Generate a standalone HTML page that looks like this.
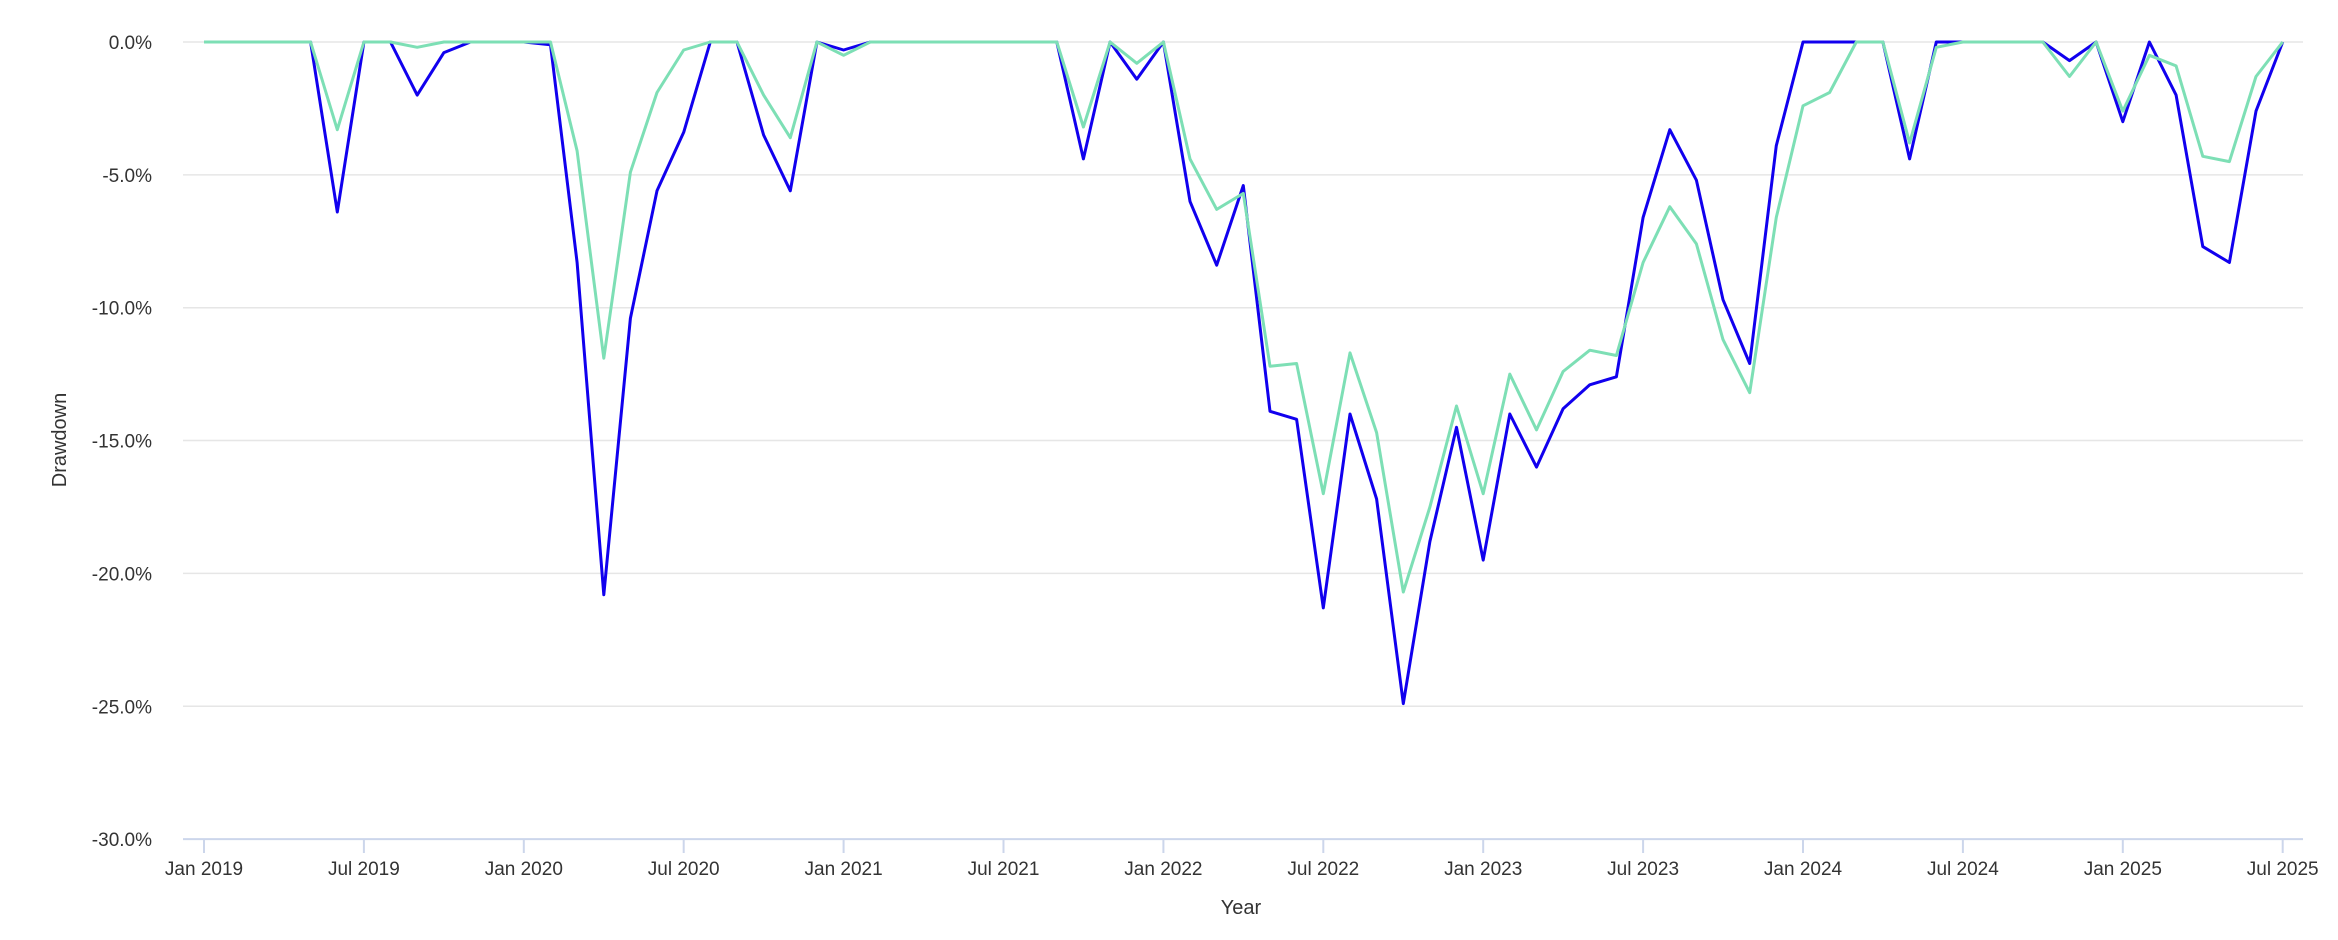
<!DOCTYPE html>
<html><head><meta charset="utf-8"><style>
html,body{margin:0;padding:0;background:#fff}
svg{display:block;font-family:"Liberation Sans",sans-serif}
</style></head><body>
<svg id="c" width="2338" height="940" viewBox="0 0 2338 940" xmlns="http://www.w3.org/2000/svg">
<g id="grid"></g>
<g id="lines"></g>
<text x="0" y="0" transform="translate(66,440) rotate(-90)" text-anchor="middle" font-size="20" fill="#333">Drawdown</text>
<text x="1241" y="914" text-anchor="middle" font-size="20" fill="#333">Year</text>
</svg>
<script>
const NS="http://www.w3.org/2000/svg";
const X=i=>204+i*26.65, Y=v=>42-v*26.57;
const g=document.getElementById('grid');
function el(t,a,p,txt){const e=document.createElementNS(NS,t);for(const k in a)e.setAttribute(k,a[k]);if(txt)e.textContent=txt;p.appendChild(e);return e;}
for(let v=0;v>=-30;v-=5){
 const y=Y(v);
 el('line',{x1:183,x2:2303,y1:y,y2:y,stroke:v==-30?'#ccd6eb':'#e6e6e6','stroke-width':v==-30?2:1.5},g);
 el('text',{x:152,y:y+7,'text-anchor':'end','font-size':19,fill:'#333'},g,v.toFixed(1)+'%');
}
const labs=['Jan 2019','Jul 2019','Jan 2020','Jul 2020','Jan 2021','Jul 2021','Jan 2022','Jul 2022','Jan 2023','Jul 2023','Jan 2024','Jul 2024','Jan 2025','Jul 2025'];
labs.forEach((l,k)=>{const x=X(k*6);
 el('line',{x1:x,x2:x,y1:839,y2:853,stroke:'#ccd6eb','stroke-width':2},g);
 el('text',{x:x,y:875,'text-anchor':'middle','font-size':19,fill:'#333'},g,l);});
const blue=[0,0,0,0,0,-6.4,0,0,-2.0,-0.4,0,0,0,-0.1,-8.3,-20.8,-10.4,-5.6,-3.4,0,0,-3.5,-5.6,0,-0.3,0,0,0,0,0,0,0,0,-4.4,0,-1.4,0,-6.0,-8.4,-5.4,-13.9,-14.2,-21.3,-14.0,-17.2,-24.9,-18.8,-14.5,-19.5,-14.0,-16.0,-13.8,-12.9,-12.6,-6.6,-3.3,-5.2,-9.7,-12.1,-3.9,0,0,0,0,-4.4,0,0,0,0,0,-0.7,0,-3.0,0,-2.0,-7.7,-8.3,-2.6,0];
const green=[0,0,0,0,0,-3.3,0,0,-0.2,0,0,0,0,0,-4.1,-11.9,-4.9,-1.9,-0.3,0,0,-2.0,-3.6,0,-0.5,0,0,0,0,0,0,0,0,-3.2,0,-0.8,0,-4.4,-6.3,-5.7,-12.2,-12.1,-17.0,-11.7,-14.7,-20.7,-17.5,-13.7,-17.0,-12.5,-14.6,-12.4,-11.6,-11.8,-8.3,-6.2,-7.6,-11.2,-13.2,-6.6,-2.4,-1.9,0,0,-3.8,-0.2,0,0,0,0,-1.3,0,-2.6,-0.5,-0.9,-4.3,-4.5,-1.3,0];
const L=document.getElementById('lines');
[[blue,'#1100ee'],[green,'#7ddfb5']].forEach(([d,c])=>{
 el('polyline',{points:d.map((v,i)=>X(i).toFixed(1)+','+Y(v).toFixed(1)).join(' '),fill:'none',stroke:c,'stroke-width':3,'stroke-linejoin':'round'},L);});
</script>
</body></html>
